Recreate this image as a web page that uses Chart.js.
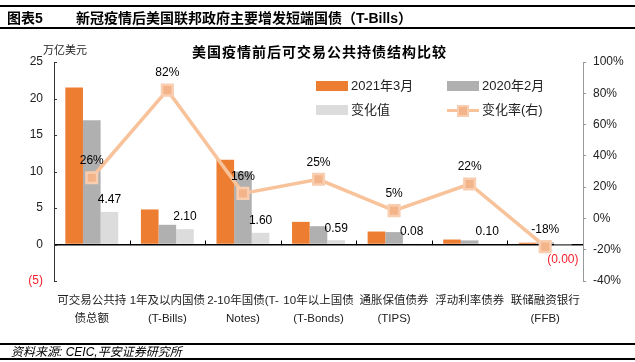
<!DOCTYPE html>
<html>
<head>
<meta charset="utf-8">
<script src="https://cdn.jsdelivr.net/npm/chart.js@4.4.1/dist/chart.umd.min.js"></script>
<style>
  body { margin: 0; background: #fff; font-family: "Liberation Sans", "Noto Sans CJK SC", sans-serif; color: #000; }
  #wrap { position: relative; width: 635px; height: 362px; overflow: hidden; }
  canvas { position: absolute; left: 0; top: 0; }
  .rule { position: absolute; left: 0; width: 635px; height: 2px; background: #000; }
  .txt { position: absolute; white-space: nowrap; z-index: 2; }
  .head { font: bold 14px "Liberation Sans", "Noto Sans CJK SC", sans-serif; top: 10px; line-height: 16px; }
  .legend-item { position: absolute; height: 14px; z-index: 2; }
  .legend-item .box { position: absolute; left: 0; top: 2px; width: 32px; height: 10px; }
  .legend-item .lbl { position: absolute; left: 35px; top: -1px; font-size: 13px; line-height: 16px; color: #222; white-space: nowrap; }
</style>
</head>
<body>
<div id="wrap">
  <canvas id="chart" width="635" height="362"></canvas>
  <div class="rule" style="top:5px"></div>
  <div class="txt head" style="left:7px">图表5</div>
  <div class="txt head" style="left:76px">新冠疫情后美国联邦政府主要增发短端国债（T-Bills）</div>
  <div class="rule" style="top:27px"></div>
  <div class="txt" style="left:192px; top:43px; font: bold 14px 'Noto Sans CJK SC', sans-serif; letter-spacing: 1px; line-height:16px;">美国疫情前后可交易公共持债结构比较</div>
  <div class="txt" style="left:43px; top:43px; font-size:11px; line-height:14px; color:#222;">万亿美元</div>
  <div id="legend"></div>
  <div class="rule" style="top:343px"></div>
  <div class="txt" style="left:11px; top:345px; font-size:12px; font-style:italic; line-height:14px;">资料来源: CEIC,平安证券研究所</div>
  <div class="rule" style="top:358px"></div>
</div>
<script>
// 数据（单位：万亿美元 / %）
const categories = [
  ['可交易公共持', '债总额'],
  ['1年及以内国债', '(T-Bills)'],
  ['2-10年国债(T-', 'Notes)'],
  ['10年以上国债', '(T-Bonds)'],
  ['通胀保值债券', '(TIPS)'],
  ['浮动利率债券'],
  ['联储融资银行', '(FFB)']
];
const seriesNames = ['2021年3月', '2020年2月', '变化值', '变化率(右)'];
const mar2021 = [21.5, 4.8, 11.6, 3.1, 1.78, 0.68, 0.25];
const feb2020 = [17.03, 2.7, 10.0, 2.51, 1.70, 0.56, 0.30];
const changeValues = [4.47, 2.10, 1.60, 0.59, 0.08, 0.10, -0.003];
const rateValues = [26, 82, 16, 25, 5, 22, -18];
const leftTicks = { min: -5, max: 25, step: 5 };
const rightTicks = { min: -40, max: 100, step: 20 };

const RED = '#F5222D';
const colors = ['#ED7D31', '#B0B0B0', '#DCDCDC'];
const lineColor = '#F8C29A';

// 图例（手动放到绘图区内）
function buildLegend() {
  const pos = [[316, 79], [447, 79], [316, 103], [447, 103]];
  const el = document.getElementById('legend');
  seriesNames.forEach((name, i) => {
    const item = document.createElement('div');
    item.className = 'legend-item';
    item.style.left = pos[i][0] + 'px';
    item.style.top = pos[i][1] + 'px';
    if (i < 3) {
      item.innerHTML = '<div class="box" style="background:' + colors[i] + '"></div>';
    } else {
      item.innerHTML = '<div style="position:absolute;left:0;top:5.5px;width:32px;height:3.5px;background:' + lineColor + '"></div>' +
        '<div style="position:absolute;left:10px;top:1.5px;width:8px;height:8px;background:#F4B48A;border:2px solid #F9CDB0"></div>';
    }
    item.innerHTML += '<div class="lbl">' + name + '</div>';
    el.appendChild(item);
  });
}
buildLegend();

// 数据标签 + 零轴刻度
const labelPlugin = {
  id: 'valueLabels',
  afterDatasetsDraw(chart) {
    const ctx = chart.ctx;
    const x = chart.scales.x, y = chart.scales.y;
    const y0 = y.getPixelForValue(0);
    ctx.save();
    // 零轴上的类别分隔刻度
    ctx.strokeStyle = '#000';
    ctx.lineWidth = 1;
    for (let i = 1; i < categories.length; i++) {
      const bx = Math.round((x.getPixelForValue(i - 1) + x.getPixelForValue(i)) / 2) + 0.5;
      ctx.beginPath(); ctx.moveTo(bx, y0 - 4); ctx.lineTo(bx, y0); ctx.stroke();
    }
    // 左轴小刻度
    ctx.strokeStyle = '#333';
    for (let v = leftTicks.min; v <= leftTicks.max; v += leftTicks.step) {
      const py = Math.round(y.getPixelForValue(v)) + 0.5;
      ctx.beginPath(); ctx.moveTo(chart.chartArea.left, py); ctx.lineTo(chart.chartArea.left + 3, py); ctx.stroke();
    }

    ctx.font = '12px "Liberation Sans", "Noto Sans CJK SC", sans-serif';
    ctx.textAlign = 'center';
    ctx.textBaseline = 'middle';
    chart.getDatasetMeta(2).data.forEach((bar, i) => {
      const v = changeValues[i];
      if (v < 0) {
        ctx.fillStyle = RED;
        ctx.fillText('(' + Math.abs(v).toFixed(2) + ')', bar.x, bar.y + 15);
      } else {
        ctx.fillStyle = '#000';
        ctx.fillText(v.toFixed(2), bar.x, bar.y - 12);
      }
    });
    chart.getDatasetMeta(3).data.forEach((pt, i) => {
      ctx.fillStyle = '#000';
      ctx.fillText(rateValues[i] + '%', pt.x, pt.y - 17);
    });
    ctx.restore();
  }
};

Chart.defaults.font.family = '"Liberation Sans", "Noto Sans CJK SC", sans-serif';
Chart.defaults.color = '#222';

new Chart(document.getElementById('chart'), {
  type: 'bar',
  data: {
    labels: categories,
    datasets: [
      { label: seriesNames[0], data: mar2021, backgroundColor: colors[0], yAxisID: 'y', order: 1 },
      { label: seriesNames[1], data: feb2020, backgroundColor: colors[1], yAxisID: 'y', order: 1 },
      { label: seriesNames[2], data: changeValues, backgroundColor: colors[2], yAxisID: 'y', order: 1 },
      {
        type: 'line', label: seriesNames[3], data: rateValues, yAxisID: 'y1', order: 0,
        borderColor: lineColor, borderWidth: 3.5, tension: 0,
        pointStyle: 'rect', pointRadius: 7.5, pointBackgroundColor: '#F4B48A',
        pointBorderColor: '#F9CDB0', pointBorderWidth: 2.5
      }
    ]
  },
  options: {
    responsive: false,
    animation: false,
    devicePixelRatio: 1,
    layout: { padding: { top: 62, left: 0, right: 0, bottom: 31 } },
    datasets: { bar: { categoryPercentage: 0.7, barPercentage: 1.0 } },
    plugins: { legend: { display: false }, tooltip: { enabled: false } },
    scales: {
      x: {
        grid: { display: false },
        border: { display: false },
        ticks: { font: { size: 11.5, lineHeight: 1.55 }, color: '#222', padding: 3, maxRotation: 0, autoSkip: false },
        afterFit: s => { s.height = 50; }
      },
      y: {
        position: 'left',
        min: leftTicks.min, max: leftTicks.max,
        ticks: {
          stepSize: leftTicks.step, padding: 11, font: { size: 12 },
          color: c => c.tick.value < 0 ? RED : '#222',
          callback: v => v < 0 ? '(' + (-v) + ')' : v
        },
        grid: { drawTicks: false, color: c => c.tick.value === 0 ? '#000' : 'rgba(0,0,0,0)', lineWidth: 1.5 },
        border: { display: true, color: '#333', width: 1 },
        afterFit: s => { s.width = 54; }
      },
      y1: {
        position: 'right',
        min: rightTicks.min, max: rightTicks.max,
        ticks: { stepSize: rightTicks.step, padding: 7, font: { size: 12 }, color: '#222', callback: v => v + '%' },
        grid: { drawOnChartArea: false, drawTicks: true, tickLength: 3, color: '#999' },
        border: { display: true, color: '#999', width: 1 },
        afterFit: s => { s.width = 52; }
      }
    }
  },
  plugins: [labelPlugin]
});
</script>
</body>
</html>
